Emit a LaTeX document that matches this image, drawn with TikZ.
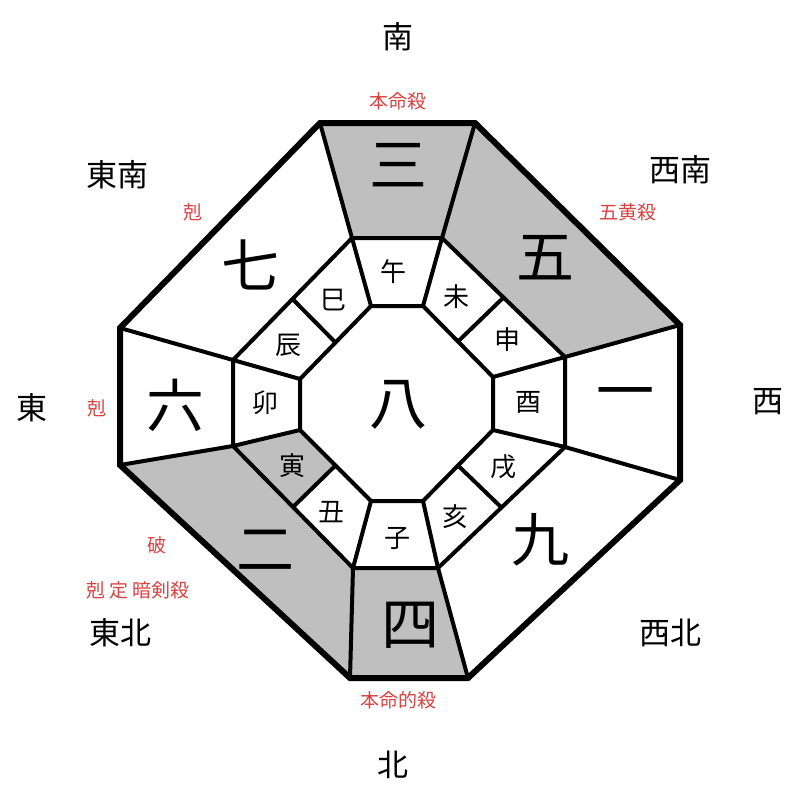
\documentclass[tikz,border=0pt]{standalone}
\usepackage{fontspec}
\newfontfamily\jp{Noto Sans CJK JP}
\usetikzlibrary{calc}

\begin{document}
\begin{tikzpicture}[
    x=1pt, y=-1pt,
    thick line/.style={line width=6pt, line join=miter},
    ring line/.style={line width=4pt},
    star/.style={font=\jp\fontsize{58}{58}\selectfont},
    zodiac/.style={font=\jp\fontsize{26}{26}\selectfont},
    dir/.style={font=\jp\fontsize{31}{31}\selectfont},
    note/.style={font=\jp\fontsize{19}{19}\selectfont, text=red!70!white!85!black},
    shade/.style={fill=black!25}
]
    \useasboundingbox (0,0) rectangle (800,800);
    % outer octagon
    \coordinate (o1) at (320,123); \coordinate (o2) at (475,123);
    \coordinate (o3) at (680,325); \coordinate (o4) at (680,480);
    \coordinate (o5) at (468,678); \coordinate (o6) at (350,678);
    \coordinate (o7) at (120,465); \coordinate (o8) at (120,328);
    % ring outer
    \coordinate (m1) at (352,238); \coordinate (m2) at (442,238);
    \coordinate (m3) at (565,357); \coordinate (m4) at (565,447);
    \coordinate (m5) at (438,568); \coordinate (m6) at (353,568);
    \coordinate (m7) at (233,446); \coordinate (m8) at (233,360);
    % inner octagon
    \coordinate (i1) at (371,306); \coordinate (i2) at (423,306);
    \coordinate (i3) at (493,377); \coordinate (i4) at (493,430);
    \coordinate (i5) at (423,501); \coordinate (i6) at (371,501);
    \coordinate (i7) at (300,430); \coordinate (i8) at (300,379);

    % shaded sectors
    \fill[shade] (o1) -- (o2) -- (m2) -- (m1) -- cycle;
    \fill[shade] (o2) -- (o3) -- (m3) -- (m2) -- cycle;
    \fill[shade] (o6) -- (o7) -- (m7) -- (m6) -- cycle;
    \fill[shade] (o5) -- (o6) -- (m6) -- (m5) -- cycle;
    \fill[shade] (m7) -- ($(m6)!0.5!(m7)$) -- ($(i6)!0.5!(i7)$) -- (i7) -- cycle;

    % outlines
    \draw[thick line] (o1) -- (o2) -- (o3) -- (o4) -- (o5) -- (o6) -- (o7) -- (o8) -- cycle;
    \draw[ring line] (m1) -- (m2) -- (m3) -- (m4) -- (m5) -- (m6) -- (m7) -- (m8) -- cycle;
    \draw[ring line] (i1) -- (i2) -- (i3) -- (i4) -- (i5) -- (i6) -- (i7) -- (i8) -- cycle;
    \foreach \k in {1,...,8} {
        \draw[ring line] (o\k) -- (m\k);
        \draw[ring line] (m\k) -- (i\k);
    }
    \draw[ring line] ($(m8)!0.5!(m1)$) -- ($(i8)!0.5!(i1)$);
    \draw[ring line] ($(m2)!0.5!(m3)$) -- ($(i2)!0.5!(i3)$);
    \draw[ring line] ($(m4)!0.5!(m5)$) -- ($(i4)!0.5!(i5)$);
    \draw[ring line] ($(m6)!0.5!(m7)$) -- ($(i6)!0.5!(i7)$);

    % stars
    \node[star] (s8) at (398,405) {八};
    \node[star] (s3) at (398,165) {三};
    \node[star] (s5) at (545,258) {五};
    \node[star] (s7) at (250,265) {七};
    \node[star] (s6) at (175,405) {六};
    \node[star] (s1) at (625,400) {一};
    \node[star] (s2) at (265,550) {二};
    \node[star] (s9) at (540,540) {九};
    \node[star] (s4) at (410,625) {四};

    % zodiac
    \node[zodiac] (uma) at (393,272) {午};
    \node[zodiac] (hitsuji) at (456,297) {未};
    \node[zodiac] (saru) at (507,340) {申};
    \node[zodiac] (tori) at (528,402) {酉};
    \node[zodiac] (inu) at (503,467) {戌};
    \node[zodiac] (i) at (455,517) {亥};
    \node[zodiac] (ne) at (397,538) {子};
    \node[zodiac] (ushi) at (331,512) {丑};
    \node[zodiac] (tora) at (292,466) {寅};
    \node[zodiac] (u) at (265,403) {卯};
    \node[zodiac] (tatsu) at (288,345) {辰};
    \node[zodiac] (mi) at (333,300) {巳};

    % directions
    \node[dir] (south) at (398,37) {南};
    \node[dir] (southeast) at (117,175) {東南};
    \node[dir] (southwest) at (680,170) {西南};
    \node[dir] (east) at (32,408) {東};
    \node[dir] (west) at (768,402) {西};
    \node[dir] (northeast) at (120,633) {東北};
    \node[dir] (northwest) at (670,633) {西北};
    \node[dir] (north) at (393,765) {北};

    % notes
    \node[note] (n1) at (398,101) {本命殺};
    \node[note] (n2) at (628,212) {五黄殺};
    \node[note] (n3) at (193,212) {剋};
    \node[note] (n4) at (97,408) {剋};
    \node[note] (n5) at (157,545) {破};
    \node[note] (n6) at (138,590) {剋 定 暗剣殺};
    \node[note] (n7) at (398,700) {本命的殺};
\end{tikzpicture}
\end{document}
